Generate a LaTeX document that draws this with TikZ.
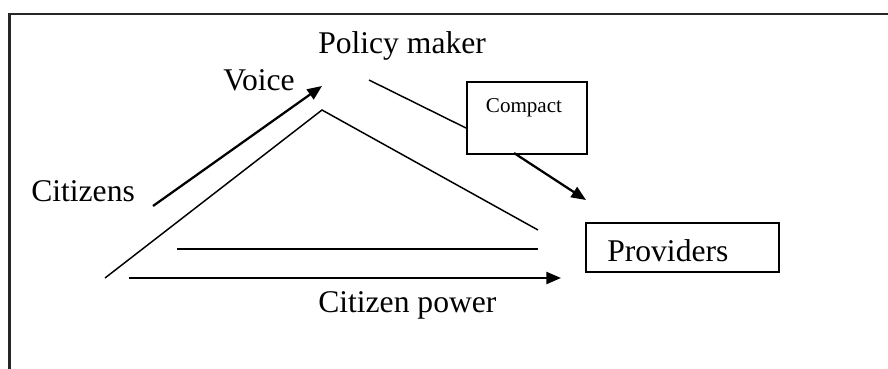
\documentclass[tikz,border=0pt]{standalone}
\usepackage{fontspec}
\setmainfont{Liberation Serif}
\usetikzlibrary{arrows.meta}

\tikzset{
  lbl/.style={anchor=base west, inner sep=0pt, font=\fontsize{23.7}{28}\selectfont},
  thin line/.style={line width=1.1pt},
  thick arrow/.style={line width=1.7pt, -{Triangle[length=11pt, width=9pt]}},
}

\begin{document}
\begin{tikzpicture}[x=0.75pt, y=-0.75pt]
  \useasboundingbox (0,0) rectangle (888,368);
  \clip (0,0) rectangle (888,368);
  \draw[line width=1.6pt, black!85] (9.5,14) rectangle (900,400);

  % Nodes
  \node[lbl] (policy) at (318,53) {Policy maker};
  \node[lbl] (voice) at (223,90) {Voice};
  \node[lbl] (citizens) at (31,201) {Citizens};
  \node[lbl] (power) at (318,312) {Citizen power};
  \node[draw, line width=1.6pt, minimum width=90pt, minimum height=54pt,
        anchor=north west, inner sep=0pt] (compact) at (466,81) {};
  \node[anchor=base, inner sep=0pt, font=\fontsize{15.8}{18}\selectfont]
        at (524,112) {Compact};
  \node[draw, line width=1.2pt, minimum width=144.75pt, minimum height=36.75pt,
        anchor=north west, inner sep=0pt] (providers) at (585,222) {};
  % text sits low in its box and is cut at the line
  \begin{scope}
    \clip (590,225) rectangle (775,261);
    \node[lbl] (provtext) at (607,261) {Providers};
  \end{scope}

  % Coordinates
  \coordinate (voice start) at (153,206);
  \coordinate (voice end) at (322,86);
  \coordinate (apex) at (322,110);
  \coordinate (left foot) at (105,278);
  \coordinate (right foot) at (538,230);
  \coordinate (mid start) at (177,248.5);
  \coordinate (mid end) at (538,248.5);
  \coordinate (power start) at (129,278);
  \coordinate (power end) at (561,278);
  \coordinate (policy out) at (369,80);
  \coordinate (compact in) at (466,128);
  \coordinate (compact out) at (514,153);
  \coordinate (providers in) at (586,200);

  % Edges
  \draw[thick arrow] (voice start) -- (voice end);
  \draw[thin line] (left foot) -- (apex) -- (right foot);
  \draw[line width=1.5pt] (mid start) -- (mid end);
  \draw[thick arrow] (power start) -- (power end);
  \draw[thin line] (policy out) -- (compact in);
  \draw[thick arrow] (compact out) -- (providers in);
\end{tikzpicture}
\end{document}
